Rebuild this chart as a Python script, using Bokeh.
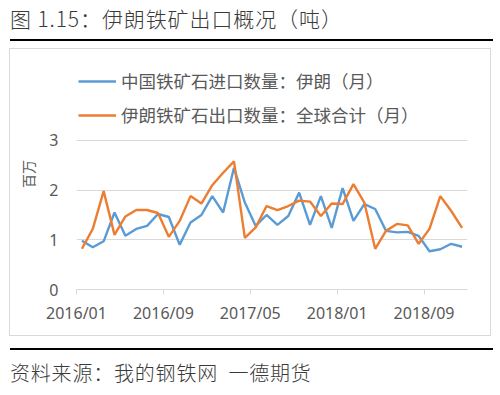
from bokeh.plotting import figure
from bokeh.models import (Range1d, FixedTicker, Legend, LegendItem, Div)
from bokeh.layouts import column
from bokeh.embed import file_html
from bokeh.resources import INLINE

# ---- data (millions of tonnes, monthly 2016/01 .. 2018/12) ----
tick_labels = ["2016/01", "2016/09", "2017/05", "2018/01", "2018/09"]
y_ticks = [0, 1, 2, 3]
china_imports_iran = [0.98, 0.85, 0.97, 1.55, 1.08, 1.22, 1.28, 1.52, 1.46, 0.90, 1.35, 1.50,
                      1.88, 1.55, 2.45, 1.75, 1.28, 1.50, 1.30, 1.48, 1.95, 1.30, 1.88, 1.24,
                      2.04, 1.38, 1.72, 1.62, 1.18, 1.15, 1.16, 1.08, 0.77, 0.81, 0.92, 0.86]
iran_exports_total = [0.82, 1.22, 1.98, 1.10, 1.47, 1.60, 1.60, 1.54, 1.06, 1.38, 1.88, 1.73,
                      2.10, 2.35, 2.58, 1.04, 1.25, 1.68, 1.60, 1.68, 1.79, 1.77, 1.48, 1.73,
                      1.72, 2.12, 1.75, 0.82, 1.18, 1.32, 1.29, 0.92, 1.22, 1.88, 1.58, 1.24]
series_names = ["中国铁矿石进口数量：伊朗（月）", "伊朗铁矿石出口数量：全球合计（月）"]
title_text = "图 1.15：伊朗铁矿出口概况（吨）"
source_text = "资料来源：我的钢铁网&nbsp;&nbsp;一德期货"
y_label = "百万"

n = len(china_imports_iran)
xs = list(range(n))
months_per_tick = 8
tick_pos = [i * months_per_tick - 0.5 for i in range(len(tick_labels))]

GRAY = "#595959"
LIGHT = "#d9d9d9"
CJK = "Noto Sans CJK SC"

# chart box: page x 10..490, y 49..335 ; frame: page x 76..467, y 58..289
BW, BH = 480, 286
FL, FR, FT, FB = 76 - 10, 467 - 10, 58 - 49, 289 - 49

p = figure(width=BW, height=BH, output_backend="svg", toolbar_location=None,
           x_range=Range1d(-0.5, n - 0.5), y_range=Range1d(0, 4.65),
           min_border_left=FL, min_border_right=BW - FR,
           min_border_top=FT, min_border_bottom=BH - FB,
           margin=(8, 0, 0, 10),
           styles={"outline": "1.5px solid #d9d9d9"})
p.outline_line_color = None
p.background_fill_color = "white"
p.border_fill_color = "white"

l1 = p.line(xs, china_imports_iran, line_color="#5b9bd5", line_width=2.4)
l2 = p.line(xs, iran_exports_total, line_color="#ed7d31", line_width=2.4)

# axes
p.xaxis.ticker = FixedTicker(ticks=tick_pos)
p.xaxis.major_label_overrides = {t: lab for t, lab in zip(tick_pos, tick_labels)}
p.xaxis.axis_line_color = LIGHT
p.xaxis.major_tick_line_color = LIGHT
p.xaxis.major_tick_out = 5
p.xaxis.major_tick_in = 0
p.xaxis.minor_tick_line_color = None
p.xaxis.major_label_text_font = "Noto Sans"
p.xaxis.major_label_text_font_size = "16px"
p.xaxis.major_label_text_color = GRAY
p.xaxis.major_label_standoff = 7

p.yaxis.ticker = FixedTicker(ticks=y_ticks)
p.yaxis.axis_line_color = None
p.yaxis.major_tick_line_color = None
p.yaxis.minor_tick_line_color = None
p.yaxis.major_label_text_font = "Noto Sans"
p.yaxis.major_label_text_font_size = "16px"
p.yaxis.major_label_text_color = GRAY
p.yaxis.major_label_standoff = 12
p.yaxis.axis_label = y_label
p.yaxis.axis_label_text_font = CJK
p.yaxis.axis_label_text_font_size = "14px"
p.yaxis.axis_label_text_font_style = "normal"
p.yaxis.axis_label_text_color = GRAY
p.yaxis.axis_label_standoff = 8

p.xgrid.grid_line_color = None
p.ygrid.grid_line_color = LIGHT
p.ygrid.grid_line_width = 1.2

legend = Legend(items=[LegendItem(label=series_names[0], renderers=[l1]),
                       LegendItem(label=series_names[1], renderers=[l2])],
                location=(2, 162), orientation="vertical",
                glyph_width=38, glyph_height=20, label_height=20, spacing=9,
                padding=0, margin=0, label_standoff=5,
                border_line_color=None, background_fill_alpha=0,
                label_text_font=CJK, label_text_font_size="17.5px", label_text_color=GRAY)
p.add_layout(legend, "center")

text_style = ("font-family:'Noto Sans CJK SC'; font-weight:300; line-height:20px; "
              "color:#3a3a3a; white-space:nowrap;")
title_div = Div(text=f'<div style="{text_style} font-size:21px; letter-spacing:0.9px; '
                     f'padding-top:8px;">{title_text}</div>',
                width=490, height=39, margin=(0, 0, 0, 10))
rule1 = Div(text="", width=483, height=2, margin=(0, 0, 0, 10),
            styles={"background-color": "black"})
rule2 = Div(text="", width=483, height=2, margin=(13, 0, 0, 10),
            styles={"background-color": "black"})
footer_div = Div(text=f'<div style="{text_style} font-size:20px; letter-spacing:0.8px; '
                      f'padding-top:13px;">{source_text}</div>',
                 width=490, height=43, margin=(0, 0, 0, 10))

layout = column(title_div, rule1, p, rule2, footer_div, spacing=0)

open("out.html", "w").write(file_html(layout, INLINE))
